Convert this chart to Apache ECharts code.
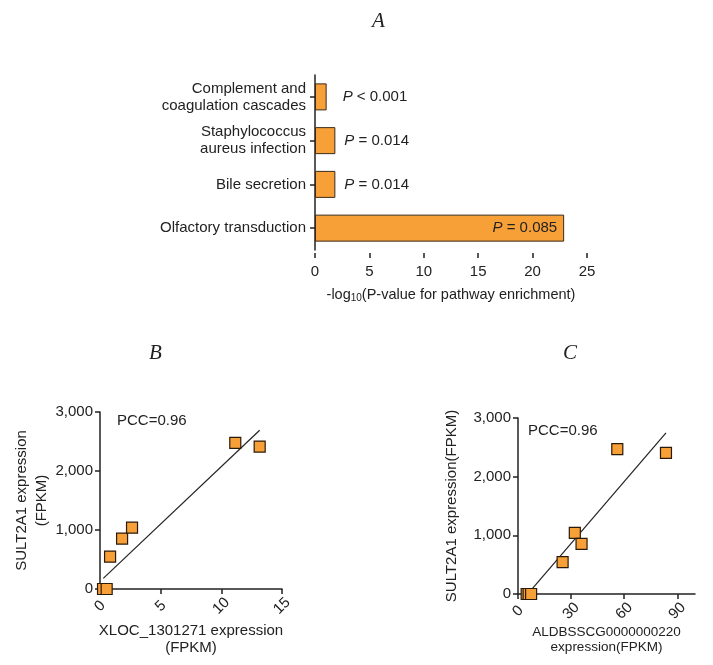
<!DOCTYPE html>
<html>
<head>
<meta charset="utf-8">
<script src="https://cdn.jsdelivr.net/npm/echarts@6/dist/echarts.min.js"></script>
<style>
  html, body { margin: 0; padding: 0; background: #fff; }
  #chart { width: 713px; height: 665px; }
</style>
</head>
<body>
<div id="chart"></div>
<script>
// panel A: pathway enrichment
var pathways = ['Complement and\ncoagulation cascades', 'Staphylococcus\naureus infection', 'Bile secretion', 'Olfactory transduction'];
var enrichment = [1.07, 1.87, 1.87, 22.9];
var pLabels = ['P < 0.001', 'P = 0.014', 'P = 0.014', 'P = 0.085'];
var xTicksA = [0, 5, 10, 15, 20, 25];

// panel B: XLOC_1301271 vs SULT2A1
var xlocExpr = [0.25, 0.55, 0.83, 1.82, 2.64, 11.15, 13.16];
var sultB = [0, 0, 550, 855, 1040, 2476, 2414];
var fitB = [[0.27, 181], [13.16, 2690]];

// panel C: ALDBSSCG0000000220 vs SULT2A1
var aldbExpr = [4.9, 6.0, 7.4, 25.2, 32.1, 35.9, 56.1, 83.6];
var sultC = [0, 0, 0, 543, 1041, 855, 2468, 2406];
var fitC = [[7.5, 70], [83.6, 2745]];

var yTicks = [0, 1000, 2000, 3000];

var orange = '#F8A038';
var dark = '#222';
var font = 'Liberation Sans, Arial, sans-serif';

var myChart = echarts.init(document.getElementById('chart'));

function pairs(xs, ys) {
    return xs.map(function (x, i) { return [x, ys[i]]; });
}

var axisLineStyle = { lineStyle: { color: dark, width: 1.5 } };
var tickStyle = { show: true, length: 5, lineStyle: { color: dark, width: 1.5 } };

function scatterXAxis(gridIndex, max, interval, name, nameSize, nameGap, lh) {
    return {
        type: 'value', gridIndex: gridIndex, min: 0, max: max, interval: interval,
        splitLine: { show: false },
        axisLine: axisLineStyle, axisTick: tickStyle,
        axisLabel: {
            rotate: 45, align: 'center', verticalAlign: 'middle', margin: 17,
            color: dark, fontSize: 15, fontFamily: font
        },
        name: name, nameLocation: 'middle', nameGap: nameGap,
        nameTextStyle: { color: dark, fontSize: nameSize, fontFamily: font, lineHeight: lh }
    };
}

function scatterYAxis(gridIndex, name, nameGap) {
    return {
        type: 'value', gridIndex: gridIndex, min: 0, max: 3000, interval: 1000,
        splitLine: { show: false },
        axisLine: axisLineStyle, axisTick: tickStyle,
        axisLabel: {
            color: dark, fontSize: 15, fontFamily: font, margin: 7,
            formatter: function (v) { return v.toLocaleString('en-US'); }
        },
        name: name, nameLocation: 'middle', nameGap: nameGap, nameRotate: 90,
        nameTextStyle: { color: dark, fontSize: 15, fontFamily: font, lineHeight: 20 }
    };
}

var titleStyle = { fontFamily: 'Liberation Serif', fontStyle: 'italic', fontWeight: 'normal', fontSize: 21, color: dark };

var option = {
    animation: false,
    backgroundColor: '#fff',
    title: [
        { text: 'A', left: 367, top: 6, textStyle: titleStyle },
        { text: 'B', left: 144, top: 338, textStyle: titleStyle },
        { text: 'C', left: 558, top: 338, textStyle: titleStyle }
    ],
    graphic: [
        { type: 'text', left: 117, top: 413, style: { text: 'PCC=0.96', font: '15px ' + font, fill: dark } },
        { type: 'text', left: 528, top: 423, style: { text: 'PCC=0.96', font: '15px ' + font, fill: dark } }
    ],
    grid: [
        { left: 315, top: 75, width: 272, height: 175 },
        { left: 100, top: 412, width: 182, height: 177 },
        { left: 518, top: 418, width: 177, height: 176 }
    ],
    xAxis: [
        {
            type: 'value', gridIndex: 0, min: 0, max: 25, interval: 5, offset: 3,
            splitLine: { show: false },
            axisLine: axisLineStyle, axisTick: tickStyle,
            axisLabel: { color: dark, fontSize: 15, fontFamily: font, margin: 11 },
            name: '-log{sub|10}(P-value for pathway enrichment)',
            nameLocation: 'middle', nameGap: 33,
            nameTextStyle: {
                color: dark, fontSize: 14.5, fontFamily: font,
                rich: { sub: { fontSize: 10, verticalAlign: 'bottom', padding: [7, 0, 0, 0], fontFamily: font, color: dark } }
            }
        },
        scatterXAxis(1, 15, 5, 'XLOC_1301271 expression\n(FPKM)', 15, 33, 17),
        scatterXAxis(2, 100, 30, 'ALDBSSCG0000000220\nexpression(FPKM)', 13.5, 29, 15)
    ],
    yAxis: [
        {
            type: 'category', gridIndex: 0, data: pathways, inverse: true,
            axisLine: axisLineStyle,
            axisTick: { show: true, length: 5, alignWithLabel: true, lineStyle: { color: dark, width: 1.5 } },
            axisLabel: { color: dark, fontSize: 15, fontFamily: font, lineHeight: 17, margin: 9, align: 'right' }
        },
        scatterYAxis(1, 'SULT2A1 expression\n(FPKM)', 45),
        scatterYAxis(2, 'SULT2A1 expression(FPKM)', 56)
    ],
    series: [
        {
            type: 'bar', xAxisIndex: 0, yAxisIndex: 0, barWidth: 27,
            itemStyle: { color: orange, borderColor: '#3a2a1a', borderWidth: 1 },
            data: enrichment.map(function (v, i) {
                var inside = i === enrichment.length - 1;
                return {
                    value: v,
                    label: {
                        show: true,
                        position: inside ? 'insideRight' : 'right',
                        distance: inside ? 7 : (i === 0 ? 16 : 9),
                        formatter: pLabels[i].replace(/^P/, '{i|P}'),
                        color: dark, fontSize: 15, fontFamily: font,
                        rich: { i: { fontStyle: 'italic', fontSize: 15, fontFamily: font, color: dark } }
                    }
                };
            })
        },
        {
            type: 'line', xAxisIndex: 1, yAxisIndex: 1, data: fitB, showSymbol: false,
            lineStyle: { color: dark, width: 1.2 }, z: 1
        },
        {
            type: 'scatter', xAxisIndex: 1, yAxisIndex: 1, data: pairs(xlocExpr, sultB),
            symbol: 'rect', symbolSize: 11,
            itemStyle: { color: orange, borderColor: '#2a1a0a', borderWidth: 1.2, opacity: 1 }, z: 3
        },
        {
            type: 'line', xAxisIndex: 2, yAxisIndex: 2, data: fitC, showSymbol: false,
            lineStyle: { color: dark, width: 1.2 }, z: 1
        },
        {
            type: 'scatter', xAxisIndex: 2, yAxisIndex: 2, data: pairs(aldbExpr, sultC),
            symbol: 'rect', symbolSize: 11,
            itemStyle: { color: orange, borderColor: '#2a1a0a', borderWidth: 1.2, opacity: 1 }, z: 3
        }
    ]
};

myChart.setOption(option);
window.addEventListener('resize', function () {
    myChart.resize();
});
</script>
</body>
</html>
